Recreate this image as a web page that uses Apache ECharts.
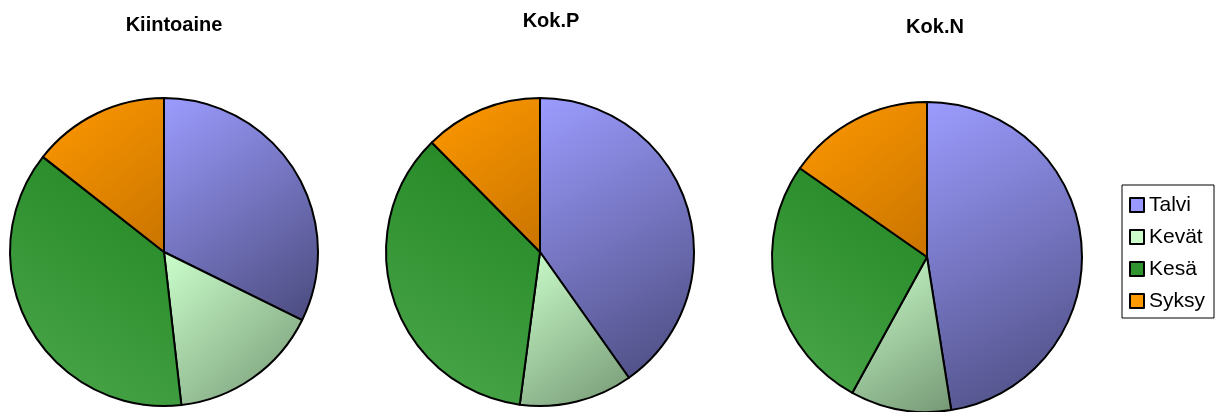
<!DOCTYPE html>
<html>
<head>
<meta charset="utf-8">
<script src="https://cdn.jsdelivr.net/npm/echarts@6/dist/echarts.min.js"></script>
<style>
  html, body { margin: 0; padding: 0; background: #fff; }
  #chart { width: 1226px; height: 412px; }
</style>
</head>
<body>
<div id="chart"></div>
<script>
// seasons (categories)
const seasons = ['Talvi', 'Kevät', 'Kesä', 'Syksy'];
// chart titles
const titles = ['Kiintoaine', 'Kok.P', 'Kok.N'];
// share of each season, %
const kiintoaine = [32.3, 15.9, 37.4, 14.4];
const kokP = [40.2, 11.9, 35.5, 12.4];
const kokN = [47.5, 10.5, 26.7, 15.3];

const chartDom = document.getElementById('chart');
const myChart = echarts.init(chartDom);

const font = 'Arial, "Liberation Sans", sans-serif';

// slice fill: [light, dark, direction]
const fills = {
  'Talvi': ['#9c9cff', '#4a4a7d', 'tlbr'],
  'Kevät': ['#ccffcc', '#759875', 'tlbr'],
  'Kesä': ['#4da84d', '#1f841f', 'bltr'],
  'Syksy': ['#ff9900', '#c97400', 'tlbr']
};
const swatch = {
  'Talvi': '#9999ff',
  'Kevät': '#ccffcc',
  'Kesä': '#2f942f',
  'Syksy': '#ff9900'
};

function sliceColor(name) {
  const f = fills[name];
  if (f[2] === 'bltr') {
    return new echarts.graphic.LinearGradient(0, 1, 1, 0, [
      { offset: 0, color: f[0] }, { offset: 1, color: f[1] }
    ]);
  }
  return new echarts.graphic.LinearGradient(0, 0, 1, 1, [
    { offset: 0, color: f[0] }, { offset: 1, color: f[1] }
  ]);
}

function makePie(values, center, radius) {
  return {
    type: 'pie',
    center: center,
    radius: radius,
    startAngle: 90,
    clockwise: true,
    label: { show: false },
    labelLine: { show: false },
    emphasis: { disabled: true },
    animation: false,
    itemStyle: { borderColor: '#000', borderWidth: 2 },
    data: seasons.map((s, i) => ({
      name: s,
      value: values[i],
      itemStyle: { color: sliceColor(s) }
    }))
  };
}

const titlePos = [[174, 25], [551, 21], [935, 27]];

const option = {
  backgroundColor: '#fff',
  animation: false,
  legend: {
    orient: 'vertical',
    left: 1122,
    top: 185,
    padding: [9, 9, 6, 7],
    itemGap: 10,
    itemWidth: 14,
    itemHeight: 14,
    borderColor: '#000',
    borderWidth: 1,
    icon: 'rect',
    selectedMode: false,
    textStyle: { fontFamily: font, fontSize: 21, color: '#000', lineHeight: 22, padding: [0, 0, 0, 0] },
    data: seasons.map(s => ({
      name: s,
      itemStyle: { color: swatch[s], borderColor: '#000', borderWidth: 2 }
    }))
  },
  graphic: titles.map((t, i) => ({
    type: 'text',
    x: titlePos[i][0],
    y: titlePos[i][1],
    style: {
      text: t,
      font: 'bold 20px ' + font,
      fill: '#000',
      textAlign: 'center',
      textVerticalAlign: 'middle'
    }
  })),
  series: [
    makePie(kiintoaine, [164, 252], 154),
    makePie(kokP, [540, 252], 154),
    makePie(kokN, [927, 257], 155)
  ]
};

myChart.setOption(option);
</script>
</body>
</html>
